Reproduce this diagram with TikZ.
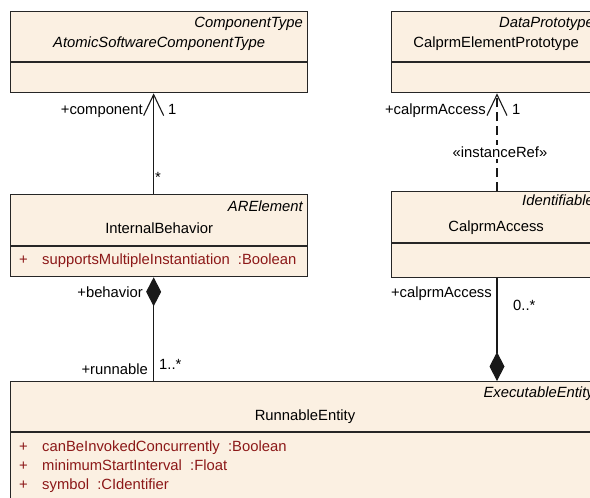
\documentclass[tikz,border=0pt]{standalone}
\usepackage{fontspec}
\setmainfont{Liberation Sans}
\usetikzlibrary{arrows.meta,positioning}
\definecolor{classfill}{RGB}{251,240,226}
\definecolor{attrred}{RGB}{140,24,24}

\begin{document}
\begin{tikzpicture}[
    x=1pt, y=-1pt,
    font=\fontsize{14.8}{17}\selectfont,
    umlclass/.style={draw=black!85, fill=classfill, line width=1.3pt, anchor=north west, inner sep=0pt},
    sepline/.style={draw=black!85, line width=1.3pt},
    parent/.style={font=\fontsize{14.8}{17}\selectfont\itshape, anchor=base east, inner sep=0pt},
    classname/.style={anchor=base, inner sep=0pt},
    attr/.style={text=attrred, anchor=base west, inner sep=0pt},
    role/.style={anchor=base east, inner sep=0pt},
    mult/.style={anchor=base west, inner sep=0pt},
    assoc/.style={draw=black!90, line width=1.1pt},
    navto/.style={-{Straight Barb[length=21pt, width=20pt, line width=1.1pt]}},
    owner/.style={{Diamond[length=29pt, width=15pt]}-}
]
\useasboundingbox (0,0) rectangle (590,498);
\clip (0,0) rectangle (590,498);

% classes
\node[umlclass, minimum width=297pt, minimum height=81pt] (swc) at (10,11) {};
\draw[sepline] (swc.west |- 0,62) -- (swc.east |- 0,62);
\node[parent] at (303,27) {ComponentType};
\node[classname, font=\fontsize{14.8}{17}\selectfont\itshape] at (swc.center |- 0,47) {AtomicSoftwareComponentType};

\node[umlclass, minimum width=209pt, minimum height=81pt] (cep) at (391,11) {};
\draw[sepline] (cep.west |- 0,62) -- (cep.east |- 0,62);
\node[parent] at (594,27) {DataPrototype};
\node[classname] at (cep.center |- 0,47) {CalprmElementPrototype};

\node[umlclass, minimum width=297pt, minimum height=82pt] (ib) at (10,194) {};
\draw[sepline] (ib.west |- 0,246) -- (ib.east |- 0,246);
\node[parent] at (303,211) {ARElement};
\node[classname] at (ib.center |- 0,233) {InternalBehavior};
\node[attr] at (19,264) {+};
\node[attr] at (42,264) {supportsMultipleInstantiation\ \ :Boolean};

\node[umlclass, minimum width=209pt, minimum height=86pt] (acc) at (391,191) {};
\draw[sepline] (acc.west |- 0,243) -- (acc.east |- 0,243);
\node[parent] at (594,205) {Identifiable};
\node[classname] at (acc.center |- 0,231) {CalprmAccess};

\node[umlclass, minimum width=590pt, minimum height=130pt] (run) at (10,381) {};
\draw[sepline] (run.west |- 0,432) -- (run.east |- 0,432);
\node[parent] at (594,397) {ExecutableEntity};
\node[classname] at (305,420) {RunnableEntity};
\node[attr] at (19,451) {+};
\node[attr] at (42,451) {canBeInvokedConcurrently\ \ :Boolean};
\node[attr] at (19,470) {+};
\node[attr] at (42,470) {minimumStartInterval\ \ :Float};
\node[attr] at (19,489) {+};
\node[attr] at (42,489) {symbol\ \ :CIdentifier};

% associations
\draw[assoc, navto] ([xshift=-5.5pt]ib.north) -- ([xshift=-5.5pt]swc.south);
\node[role] at (143,114) {+component};
\node[mult] at (168,114) {1};
\node[mult] at (155,182) {*};

\draw[assoc, navto, dash pattern=on 9pt off 5pt] (acc.north -| 497,0) -- (cep.south -| 497,0);
\node[role] at (486,114) {+calprmAccess};
\node[mult] at (512,114) {1};
\node[fill=white, inner sep=2pt] (iref) at (500,152) {«instanceRef»};

\draw[assoc, owner] ([xshift=-5.5pt]ib.south) -- ([xshift=-5.5pt]ib.south |- run.north);
\node[role] at (143,297) {+behavior};
\node[role] at (148,374) {+runnable};
\node[mult] at (159,369) {1..*};

\draw[assoc, owner] (run.north -| 497,0) -- (acc.south -| 497,0);
\node[role] at (492,297) {+calprmAccess};
\node[mult] at (513,310) {0..*};
\end{tikzpicture}
\end{document}
